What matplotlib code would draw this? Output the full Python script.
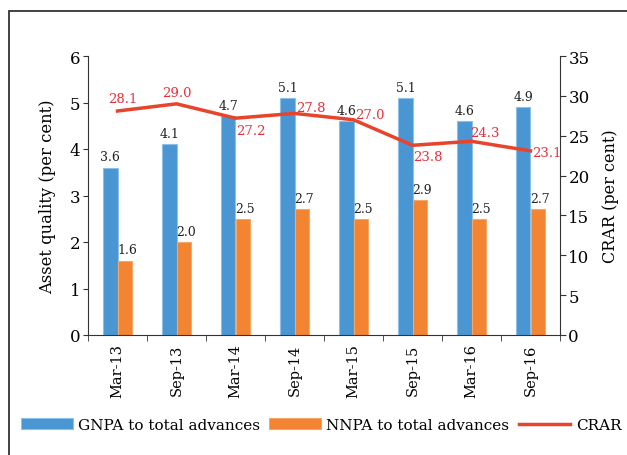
import numpy as np
import matplotlib
matplotlib.use("Agg")
from matplotlib import pyplot as plt
from matplotlib.patches import Rectangle

periods = ["Mar-13", "Sep-13", "Mar-14", "Sep-14", "Mar-15", "Sep-15", "Mar-16", "Sep-16"]
gnpa = [3.6, 4.1, 4.7, 5.1, 4.6, 5.1, 4.6, 4.9]
nnpa = [1.6, 2.0, 2.5, 2.7, 2.5, 2.9, 2.5, 2.7]
crar = [28.1, 29.0, 27.2, 27.8, 27.0, 23.8, 24.3, 23.1]

# where each CRAR label sits relative to its point (points)
crar_off = [(4, 9), (0, 8), (11, -9), (11.5, 4), (11.5, 4), (11, -8), (9.5, 6), (11.5, -1.5)]

plt.rcParams["font.family"] = ["DejaVu Serif"]
blue = "#4a96d2"
orange = "#f28432"
red = "#e8432b"
dark = "#333333"

fig = plt.figure(figsize=(6.27, 4.56), dpi=100)
ax = fig.add_axes([88/627, 1 - 336/456, (560 - 88)/627, (336 - 57)/456])
ax2 = ax.twinx()

x = np.arange(len(periods))
w = 0.24
b1 = ax.bar(x - w/2, gnpa, w, color=blue, edgecolor="#8cc0ea", linewidth=0.8,
            label="GNPA to total advances")
b2 = ax.bar(x + w/2, nnpa, w, color=orange, edgecolor="#f5a86a", linewidth=0.8,
            label="NNPA to total advances")
for xi, v in zip(x - w/2, gnpa):
    ax.annotate(f"{v:.1f}", (xi, v), xytext=(0, 3), textcoords="offset points",
                ha="center", va="bottom", fontsize=9, color="#222222")
for xi, v in zip(x + w/2, nnpa):
    ax.annotate(f"{v:.1f}", (xi, v), xytext=(2, 3), textcoords="offset points",
                ha="center", va="bottom", fontsize=9, color="#222222")

ln, = ax2.plot(x, crar, color=red, linewidth=2.5, label="CRAR", zorder=3)
for xi, v, off in zip(x, crar, crar_off):
    ax2.annotate(f"{v:.1f}", (xi, v), xytext=off, textcoords="offset points",
                 ha="center", va="center", fontsize=9.5, color="#e8303a")

ax.set_xlim(-0.5, len(periods) - 0.5)
ax.set_ylim(0, 6)
ax2.set_ylim(0, 35)
ax.set_yticks(range(0, 7))
ax2.set_yticks(range(0, 36, 5))
ax.set_xticks(x)
ax.set_xticklabels(periods, rotation=90, fontsize=10.5)
ax.set_xticks(np.arange(-0.5, len(periods)), minor=True)
ax.tick_params(axis="x", which="major", length=0, pad=6)
ax.tick_params(axis="x", which="minor", length=4, color=dark, direction="out")
ax.tick_params(axis="y", labelsize=12, length=3.5, color=dark, pad=2)
ax2.tick_params(axis="y", labelsize=12, length=4, color=dark, pad=2)

for a in (ax, ax2):
    a.spines["top"].set_visible(False)
    for s in ("left", "right", "bottom"):
        a.spines[s].set_color(dark)
ax.spines["right"].set_visible(False)
ax2.spines["left"].set_visible(False)
ax2.spines["bottom"].set_visible(False)

ax.set_ylabel("Asset quality (per cent)", fontsize=11.8, labelpad=10)
ax2.set_ylabel("CRAR (per cent)", fontsize=11.5, labelpad=9)

fig.legend([b1, b2, ln], ["GNPA to total advances", "NNPA to total advances", "CRAR"],
           loc="center", bbox_to_anchor=(0.512, 1 - 426/456), ncol=3, frameon=False,
           fontsize=11, handlelength=3.4, handletextpad=0.35, columnspacing=0.6)

fig.patches.append(Rectangle((9/627, -0.1), 1.2, 1 - 12/456 + 0.1, transform=fig.transFigure,
                             fill=False, edgecolor="#333333", linewidth=1.3))

fig.savefig("out.png", dpi=100)
